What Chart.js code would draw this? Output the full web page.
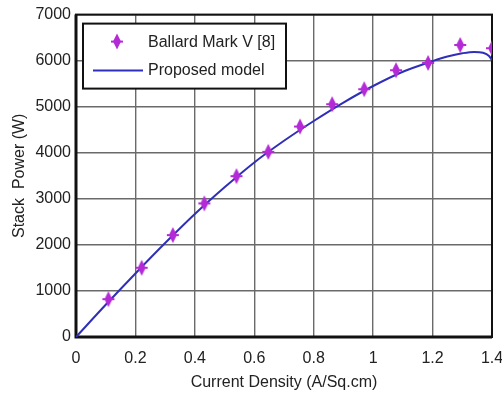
<!DOCTYPE html>
<html>
<head>
<meta charset="utf-8">
<script src="https://cdn.jsdelivr.net/npm/chart.js@4"></script>
<style>
  html, body { margin: 0; padding: 0; background: #fff; }
  #wrap { width: 502px; height: 396px; }
</style>
</head>
<body>
<div id="wrap"><canvas id="chart" width="502" height="396"></canvas></div>
<script>
// measured points (Ballard Mark V)
const densityMeasured = [0.109, 0.221, 0.326, 0.432, 0.54, 0.647, 0.754, 0.862, 0.97, 1.077, 1.185, 1.293, 1.40];
const powerMeasured = [822, 1503, 2213, 2900, 3492, 4020, 4570, 5054, 5380, 5792, 5950, 6340, 6270];

// proposed model curve
const densityModel = [0, 0.1, 0.2, 0.3, 0.4, 0.5, 0.6, 0.7, 0.8, 0.9, 1.0, 1.1, 1.2, 1.25, 1.3, 1.34, 1.37, 1.39, 1.4];
const powerModel = [0, 700, 1380, 2040, 2670, 3250, 3790, 4260, 4690, 5090, 5450, 5760, 5990, 6090, 6160, 6190, 6170, 6100, 6010];

const xTicks = [0, 0.2, 0.4, 0.6, 0.8, 1, 1.2, 1.4];
const yTicks = [0, 1000, 2000, 3000, 4000, 5000, 6000, 7000];

const seriesNames = ['Ballard Mark V [8]', 'Proposed model'];
const markerColor = '#b32ad6';
const lineColor = '#2f2fb8';

const font = 'Liberation Sans, Arial, sans-serif';

// box around plot + legend box in the upper left
const boxPlugin = {
  id: 'boxPlugin',
  beforeDatasetsDraw(chart) {
    const a = chart.chartArea;
    const ctx = chart.ctx;
    ctx.save();
    ctx.strokeStyle = '#111';
    ctx.lineWidth = 2;
    ctx.strokeRect(a.left, a.top, a.right - a.left, a.bottom - a.top);
    ctx.lineWidth = 3;
    ctx.beginPath();
    ctx.moveTo(a.left, a.top);
    ctx.lineTo(a.left, a.bottom);
    ctx.lineTo(a.right, a.bottom);
    ctx.stroke();
    ctx.restore();
  },
  afterDatasetsDraw(chart) {
    const ctx = chart.ctx;
    const a = chart.chartArea;
    const x0 = a.left + 7, y0 = a.top + 9, w = 203, h = 65;
    ctx.save();
    ctx.fillStyle = '#fff';
    ctx.fillRect(x0, y0, w, h);
    ctx.strokeStyle = '#111';
    ctx.lineWidth = 2;
    ctx.strokeRect(x0, y0, w, h);

    // marker sample
    ctx.fillStyle = markerColor;
    ctx.strokeStyle = markerColor;
    drawMarker(ctx, x0 + 34, y0 + 18);

    // line sample
    ctx.strokeStyle = lineColor;
    ctx.lineWidth = 2;
    ctx.beginPath();
    ctx.moveTo(x0 + 10, y0 + 47);
    ctx.lineTo(x0 + 60, y0 + 47);
    ctx.stroke();

    ctx.fillStyle = '#222';
    ctx.font = '16px ' + font;
    ctx.textBaseline = 'middle';
    ctx.textAlign = 'left';
    ctx.fillText(seriesNames[0], x0 + 65, y0 + 19);
    ctx.fillText(seriesNames[1], x0 + 65, y0 + 47);
    ctx.restore();
  }
};

function drawMarker(ctx, x, y) {
  ctx.beginPath();
  ctx.moveTo(x, y - 8);
  ctx.lineTo(x + 4, y);
  ctx.lineTo(x, y + 8);
  ctx.lineTo(x - 4, y);
  ctx.closePath();
  ctx.fill();
  ctx.lineWidth = 2;
  ctx.beginPath();
  ctx.moveTo(x - 6, y);
  ctx.lineTo(x + 6, y);
  ctx.stroke();
}

// canvas used as point style
const markerImg = document.createElement('canvas');
markerImg.width = 16;
markerImg.height = 18;
(function () {
  const c = markerImg.getContext('2d');
  c.fillStyle = markerColor;
  c.strokeStyle = markerColor;
  drawMarker(c, 8, 9);
})();

const ctx = document.getElementById('chart').getContext('2d');
new Chart(ctx, {
  type: 'scatter',
  data: {
    datasets: [
      {
        label: seriesNames[1],
        data: densityModel.map((x, i) => ({ x: x, y: powerModel[i] })),
        showLine: true,
        borderColor: lineColor,
        borderWidth: 2,
        pointRadius: 0,
        cubicInterpolationMode: 'monotone',
        order: 1
      },
      {
        label: seriesNames[0],
        data: densityMeasured.map((x, i) => ({ x: x, y: powerMeasured[i] })),
        showLine: false,
        pointStyle: markerImg,
        pointRadius: 6,
        backgroundColor: markerColor,
        borderColor: markerColor,
        order: 0
      }
    ]
  },
  options: {
    responsive: false,
    animation: false,
    layout: { padding: { left: 0, right: 10, top: 14, bottom: 4 } },
    plugins: {
      legend: { display: false },
      tooltip: { enabled: false }
    },
    scales: {
      x: {
        type: 'linear',
        min: 0,
        max: 1.4,
        afterBuildTicks(scale) { scale.ticks = xTicks.map(v => ({ value: v })); },
        afterFit(scale) {
          scale.height = 55;
          scale.paddingRight = 0; // let "1.4" run to the edge like the original
        },
        grid: { color: '#6a6a6a', lineWidth: 1.4, drawTicks: false },
        border: { display: false },
        ticks: {
          color: '#222',
          font: { family: font, size: 16 },
          padding: 12,
          maxRotation: 0,
          callback: v => String(v)
        },
        title: {
          display: true,
          text: 'Current Density (A/Sq.cm)',
          color: '#222',
          font: { family: font, size: 16 },
          padding: { top: 0, bottom: 0 }
        }
      },
      y: {
        type: 'linear',
        min: 0,
        max: 7000,
        afterBuildTicks(scale) { scale.ticks = yTicks.map(v => ({ value: v })); },
        afterFit(scale) { scale.width = 76; },
        grid: { color: '#6a6a6a', lineWidth: 1.4, drawTicks: false },
        border: { display: false },
        ticks: {
          color: '#222',
          font: { family: font, size: 16 },
          padding: 5,
          callback: v => String(v)
        },
        title: {
          display: true,
          text: 'Stack  Power (W)',
          color: '#222',
          font: { family: font, size: 16 },
          padding: { top: 10, bottom: 0 }
        }
      }
    }
  },
  plugins: [boxPlugin]
});
</script>
</body>
</html>
